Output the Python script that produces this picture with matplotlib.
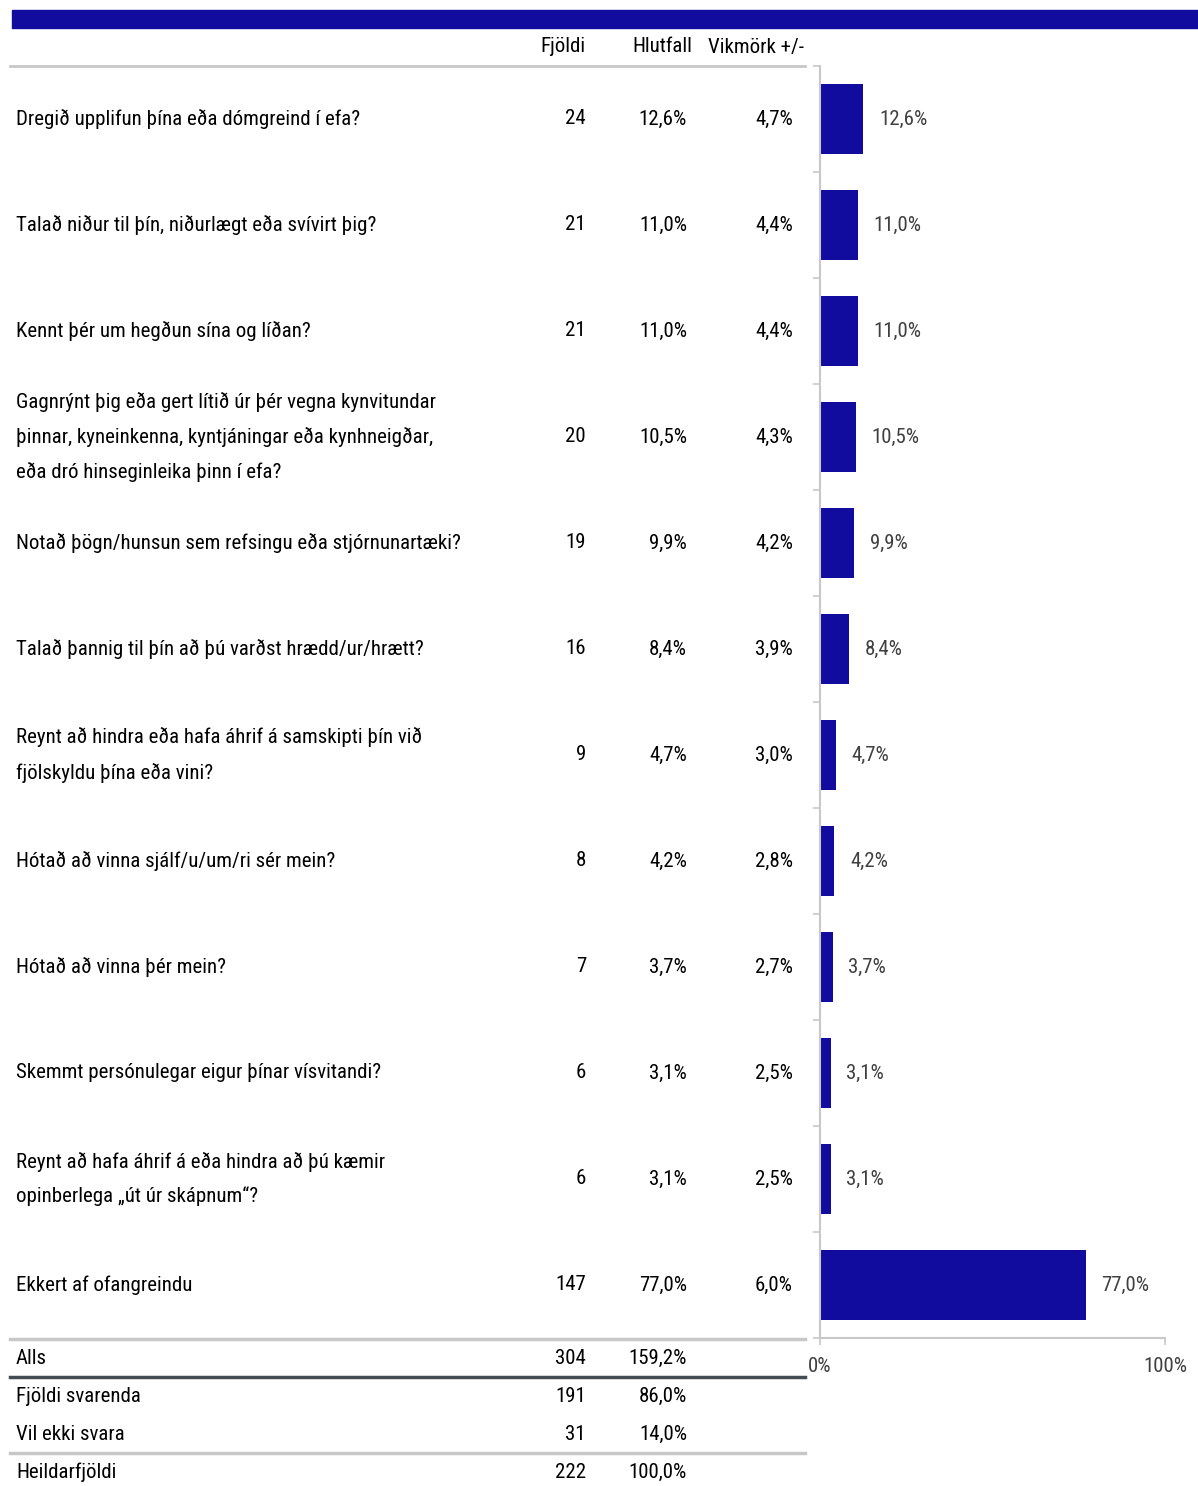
import matplotlib.pyplot as plt
import matplotlib.transforms as mtransforms
from matplotlib import font_manager
from matplotlib.lines import Line2D
from matplotlib.patches import Rectangle

# the original uses a narrow font; take one if it is installed
installed = {f.name for f in font_manager.fontManager.ttflist}
narrow = [f for f in ['Liberation Sans Narrow', 'Arial Narrow', 'DejaVu Sans Condensed',
                      'Roboto Condensed', 'Open Sans Condensed'] if f in installed]
if narrow:
    plt.rcParams['font.family'] = [narrow[0], 'DejaVu Sans']
    FS = 15
    LS = 1.95
else:
    plt.rcParams['font.family'] = ['Liberation Sans', 'DejaVu Sans']
    FS = 14
    LS = 2.1

questions = [
    "Dregið upplifun þína eða dómgreind í efa?",
    "Talað niður til þín, niðurlægt eða svívirt þig?",
    "Kennt þér um hegðun sína og líðan?",
    "Gagnrýnt þig eða gert lítið úr þér vegna kynvitundar\nþinnar, kyneinkenna, kyntjáningar eða kynhneigðar,\neða dró hinseginleika þinn í efa?",
    "Notað þögn/hunsun sem refsingu eða stjórnunartæki?",
    "Talað þannig til þín að þú varðst hrædd/ur/hrætt?",
    "Reynt að hindra eða hafa áhrif á samskipti þín við\nfjölskyldu þína eða vini?",
    "Hótað að vinna sjálf/u/um/ri sér mein?",
    "Hótað að vinna þér mein?",
    "Skemmt persónulegar eigur þínar vísvitandi?",
    "Reynt að hafa áhrif á eða hindra að þú kæmir\nopinberlega „út úr skápnum“?",
    "Ekkert af ofangreindu",
]
counts = [24, 21, 21, 20, 19, 16, 9, 8, 7, 6, 6, 147]
shares = [12.6, 11.0, 11.0, 10.5, 9.9, 8.4, 4.7, 4.2, 3.7, 3.1, 3.1, 77.0]
margins = [4.7, 4.4, 4.4, 4.3, 4.2, 3.9, 3.0, 2.8, 2.7, 2.5, 2.5, 6.0]

summary_labels = ["Alls", "Fjöldi svarenda", "Vil ekki svara", "Heildarfjöldi"]
summary_counts = [304, 191, 31, 222]
summary_shares = [159.2, 86.0, 14.0, 100.0]

headers = ["Fjöldi", "Hlutfall", "Vikmörk +/-"]

W, H = 1198, 1486
BLUE = '#110c9e'
GRAY = '#c8c8c8'


def fmt(v):
    return f"{v:.1f}%".replace('.', ',')


def fx(x):
    return x / W


def fy(y):
    return 1 - y / H


fig = plt.figure(figsize=(W / 100, H / 100), dpi=100)

# top band
fig.patches.append(Rectangle((fx(12), fy(28)), fx(1198 - 12), 18 / H,
                             transform=fig.transFigure, color=BLUE))

ax = fig.add_axes([fx(820), fy(1338), fx(1165 - 820), (1338 - 66) / H])
n = len(questions)
ypos = list(range(n))
ax.barh(ypos, shares, height=0.66, color=BLUE)
for y, v in zip(ypos, shares):
    ax.text(v + 4.5, y, fmt(v), va='center', ha='left', fontsize=FS, color='#404040')
ax.set_xlim(0, 100)
ax.set_ylim(n - 0.5, -0.5)
ax.set_xticks([0, 100])
ax.set_xticklabels(['0%', '100%'], fontsize=FS, color='#404040')
ax.set_yticks([i - 0.5 for i in range(n + 1)])
ax.set_yticklabels([])
ax.tick_params(axis='both', length=5, width=1.2, color=GRAY)
ax.tick_params(axis='x', pad=9)
for s in ['top', 'right']:
    ax.spines[s].set_visible(False)
for s in ['left', 'bottom']:
    ax.spines[s].set_color(GRAY)
    ax.spines[s].set_linewidth(1.5)

# table rows aligned with bars
tr = mtransforms.blended_transform_factory(fig.transFigure, ax.transData)
for y, q, c, s, m in zip(ypos, questions, counts, shares, margins):
    fig.text(fx(16), y, q, transform=tr, va='center', ha='left', fontsize=FS, linespacing=LS)
    fig.text(fx(586), y, str(c), transform=tr, va='center', ha='right', fontsize=FS)
    fig.text(fx(687), y, fmt(s), transform=tr, va='center', ha='right', fontsize=FS)
    fig.text(fx(793), y, fmt(m), transform=tr, va='center', ha='right', fontsize=FS)

# header
for h, x in zip(headers, [586, 692, 804]):
    fig.text(fx(x), fy(47), h, va='center', ha='right', fontsize=FS)

# summary rows
for lab, c, s, y in zip(summary_labels, summary_counts, summary_shares, [1358, 1396, 1434, 1472]):
    fig.text(fx(16), fy(y), lab, va='center', ha='left', fontsize=FS)
    fig.text(fx(586), fy(y), str(c), va='center', ha='right', fontsize=FS)
    fig.text(fx(687), fy(y), fmt(s), va='center', ha='right', fontsize=FS)

# separator lines
for y, col, lw in [(66, GRAY, 2), (1339, GRAY, 2.5), (1377, '#454b52', 2.5), (1453, GRAY, 2.5)]:
    fig.lines.append(Line2D([fx(10), fx(805)], [fy(y), fy(y)], transform=fig.transFigure,
                            color=col, linewidth=lw))

fig.savefig('out.png', dpi=100)
